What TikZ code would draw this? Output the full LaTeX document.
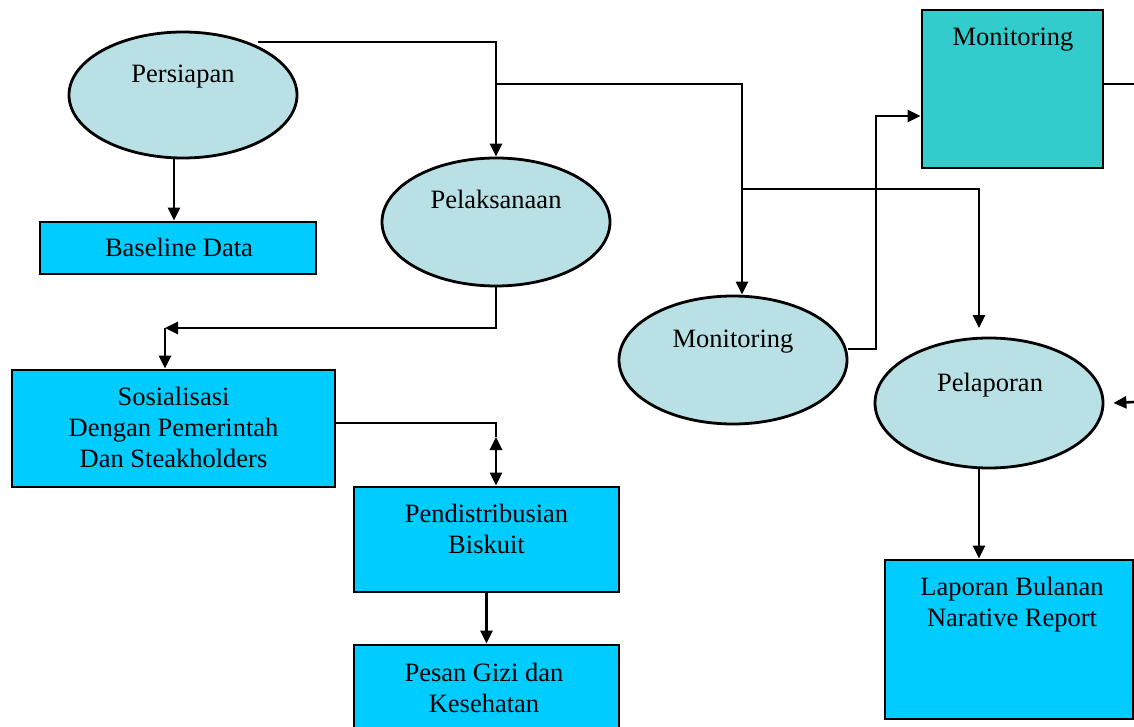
\documentclass[tikz,border=0pt]{standalone}
\usepackage{fontspec}
\setmainfont{Liberation Serif}
\usetikzlibrary{shapes.geometric,arrows.meta,calc}
\definecolor{ovalfill}{HTML}{B9E0E4}
\definecolor{boxfill}{HTML}{00CCFF}
\definecolor{tealfill}{HTML}{33CCCC}
\tikzset{
  oval/.style={ellipse,draw=black,line width=2.8pt,fill=ovalfill,inner sep=0pt},
  box/.style={rectangle,draw=black,line width=2.8pt,fill=boxfill,inner sep=0pt},
  tealbox/.style={box,fill=tealfill},
  lbl/.style={font=\fontsize{26.5}{31}\selectfont,align=center,inner sep=0pt},
  conn/.style={line width=2.6pt},
  arr/.style={conn,-{Triangle[length=13pt,width=12pt]}},
  arrboth/.style={conn,{Triangle[length=13pt,width=12pt]}-{Triangle[length=13pt,width=12pt]}}
}
\begin{document}
\begin{tikzpicture}[x=1pt,y=-1pt]
\useasboundingbox (0,0) rectangle (1134,727);
\clip (0,0) rectangle (1134,727);
\fill[white] (0,0) rectangle (1134,727);

% shapes
\node[oval,minimum width=228,minimum height=126] (pers) at (183,95) {};
\node[box,minimum width=276,minimum height=52] (base) at (178,248) {};
\node[oval,minimum width=228,minimum height=128] (pel) at (496,222) {};
\node[oval,minimum width=228,minimum height=128] (mon) at (733,360) {};
\node[oval,minimum width=228,minimum height=130] (lap) at (989,403) {};
\node[tealbox,minimum width=181,minimum height=158] (monr) at (1012.5,89) {};
\node[box,minimum width=323,minimum height=117] (sos) at (173.5,428.5) {};
\node[box,minimum width=265,minimum height=105] (dis) at (486.5,539.5) {};
\node[box,minimum width=265,minimum height=110] (pesan) at (486.5,700) {};
\node[box,minimum width=248,minimum height=159] (laprect) at (1009,639.5) {};

% texts
\node[lbl,anchor=base] (tpers) at (183,83) {Persiapan};
\node[lbl,anchor=base] (tbase) at (179,257) {Baseline Data};
\node[lbl,anchor=base] (tpel) at (496,209) {Pelaksanaan};
\node[lbl,anchor=base] (tmon) at (733,347) {Monitoring};
\node[lbl,anchor=base] (tlap) at (990,391) {Pelaporan};
\node[lbl,anchor=base] (tmonr) at (1013,46) {Monitoring};
\node[lbl] (tsos) at (173.5,427) {Sosialisasi\\Dengan Pemerintah\\Dan Steakholders};
\node[lbl] (tdis) at (486.5,529) {Pendistribusian\\Biskuit};
\node[lbl] (tpesan) at (484,687.5) {Pesan Gizi dan\\Kesehatan};
\node[lbl] (tlaprect) at (1012,605) {Laporan Bulanan\\Narative Report};

% junction coordinates
\coordinate (p1) at (258,42);
\coordinate (j1) at (496,84);
\coordinate (j2) at (742,189);
\coordinate (ptip) at (979,328);
\coordinate (c1) at (165,328);
\coordinate (c2) at (496,423);
\coordinate (c3) at (496,437);
\coordinate (c4) at (876,116);
\coordinate (e1) at (1134,84);
\coordinate (e2) at (1134,402);

% connectors
\draw[arr] ([xshift=-9pt]pers.south) -- ([xshift=-9pt]pers.south |- base.north);
\draw[arr] (p1) -| (pel.north);
\draw[arr] (j1) -| ([xshift=9pt]mon.north);
\draw[arr] (j2) -| (ptip);
\draw[arr] (pel.south) |- (c1);
\draw[arr] (c1) -- (c1 |- sos.north);
\draw[conn] ([yshift=5.5pt]sos.east) -- (c2) -- (c3);
\draw[arrboth] (c3) -- (c3 |- dis.north);
\draw[arr] (dis.south) -- (pesan.north);
\draw[arr] ([yshift=11pt]mon.east) -| (c4) -- (c4 -| monr.west);
\draw[conn] ([yshift=5pt]monr.east) -- (e1);
\draw[arr] (e2) -- ([xshift=9pt]lap.east);
\draw[arr] ([xshift=-10pt]lap.south) -- ([xshift=-10pt]lap.south |- laprect.north);
\end{tikzpicture}
\end{document}
